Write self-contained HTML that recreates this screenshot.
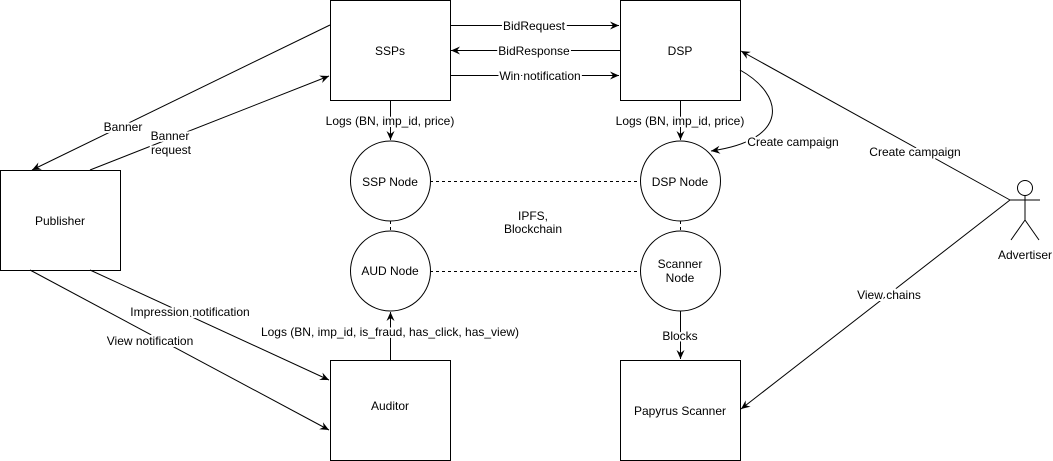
<!DOCTYPE html>
<html><head><style>body{margin:0;background:#fff}svg{display:block;font-family:"Liberation Sans",Arial,sans-serif;font-size:12px}</style></head><body>
<svg width="1053" height="461" viewBox="0 0 1053 461">
<defs><marker id="a" markerWidth="10" markerHeight="10" refX="9" refY="5" orient="auto" markerUnits="userSpaceOnUse"><path d="M0,1 L9,5 L0,9 L3,5 Z" fill="#000"/></marker></defs>
<g fill="#fff" stroke="#000" stroke-width="1">
<rect x="330.5" y="0.5" width="120" height="100"/>
<rect x="620.5" y="0.5" width="120" height="100"/>
<rect x="0.5" y="170.5" width="120" height="100"/>
<rect x="330.5" y="360.5" width="120" height="100"/>
<rect x="620.5" y="360.5" width="120" height="100"/>
<circle cx="390.5" cy="181" r="40"/><circle cx="390.5" cy="271" r="40"/>
<circle cx="680.5" cy="181" r="40"/><circle cx="680.5" cy="271" r="40"/>
</g>
<g stroke="#000" fill="none">
<line x1="330" y1="25" x2="32" y2="170" marker-end="url(#a)"/>
<line x1="90" y1="170" x2="329" y2="76" marker-end="url(#a)"/>
<line x1="30" y1="270" x2="329" y2="430" marker-end="url(#a)"/>
<line x1="90" y1="270" x2="329" y2="380" marker-end="url(#a)"/>
<line x1="450" y1="25.5" x2="619" y2="25.5" marker-end="url(#a)"/>
<line x1="620" y1="50.5" x2="451" y2="50.5" marker-end="url(#a)"/>
<line x1="450" y1="75.5" x2="619" y2="75.5" marker-end="url(#a)"/>
<line x1="390.5" y1="100" x2="390.5" y2="140" marker-end="url(#a)"/>
<line x1="680.5" y1="100" x2="680.5" y2="140" marker-end="url(#a)"/>
<line x1="390.5" y1="360" x2="390.5" y2="312" marker-end="url(#a)"/>
<line x1="680.5" y1="311" x2="680.5" y2="359" marker-end="url(#a)"/>
<path d="M740,70 C785,95 790,140 711,151" marker-end="url(#a)"/>
<line x1="1010" y1="200" x2="741" y2="51" marker-end="url(#a)"/>
<line x1="1010" y1="200" x2="741" y2="409" marker-end="url(#a)"/>
<g stroke-dasharray="3,3"><line x1="430" y1="181.5" x2="640" y2="181.5"/><line x1="430" y1="271.5" x2="640" y2="271.5"/><line x1="390.5" y1="221" x2="390.5" y2="231"/><line x1="680.5" y1="221" x2="680.5" y2="231"/></g>
<circle cx="1025" cy="188" r="7.5"/>
<line x1="1025" y1="196" x2="1025" y2="220"/><line x1="1010" y1="200" x2="1040" y2="200"/>
<line x1="1025" y1="220" x2="1011" y2="240"/><line x1="1025" y1="220" x2="1039" y2="240"/>
</g>
<g text-anchor="middle" fill="#000">
<text x="390" y="55">SSPs</text><text x="680" y="55">DSP</text><text x="60" y="225">Publisher</text>
<text x="390" y="410">Auditor</text><text x="680" y="415">Papyrus Scanner</text>
<text x="390" y="186">SSP Node</text><text x="390" y="275">AUD Node</text>
<text x="680" y="186">DSP Node</text><text x="680" y="268">Scanner</text><text x="680" y="282">Node</text>
<text x="1025" y="259">Advertiser</text>
</g>
<g text-anchor="middle" fill="#000" style="paint-order:stroke" stroke="#fff" stroke-width="4">
<text x="123" y="131">Banner</text><text x="170" y="140">Banner</text><text x="171" y="154">request</text>
<text x="190" y="316">Impression notification</text><text x="150" y="345">View notification</text>
<text x="390" y="125">Logs (BN, imp_id, price)</text><text x="680" y="125">Logs (BN, imp_id, price)</text>
<text x="390" y="336">Logs (BN, imp_id, is_fraud, has_click, has_view)</text>
<text x="680" y="340">Blocks</text>
<text x="534" y="30">BidRequest</text><text x="534" y="55">BidResponse</text><text x="540" y="80">Win notification</text>
<text x="793" y="146">Create campaign</text><text x="915" y="156">Create campaign</text>
<text x="889" y="299">View chains</text>
<text x="533" y="220">IPFS,</text><text x="533" y="233">Blockchain</text>
</g>
</svg>
</body></html>
